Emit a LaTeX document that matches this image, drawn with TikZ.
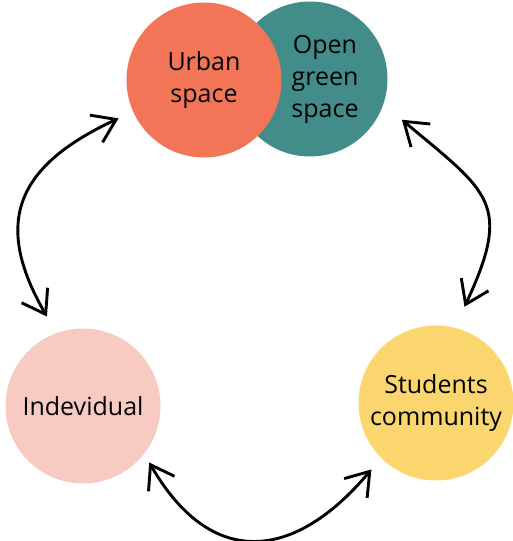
\documentclass[tikz,border=0pt]{standalone}
\usepackage{fontspec}
\setmainfont{Open Sans}
\usetikzlibrary{arrows.meta}

\definecolor{naranjo}{RGB}{242,117,87}
\definecolor{verdeazul}{RGB}{66,141,138}
\definecolor{rosado}{RGB}{247,203,193}
\definecolor{amarillo}{RGB}{251,214,110}

\begin{document}
\begin{tikzpicture}[x=1pt,y=1pt]
\tikzstyle{nodo circulo}=[circle,minimum size=155pt,inner sep=0pt,align=center,font=\fontsize{25}{32}\selectfont]
\tikzstyle{flecha doble}=[line width=2.9pt,{Straight Barb[length=22pt,width=30pt]}-{Straight Barb[length=22pt,width=30pt]}]

\useasboundingbox (0,0) rectangle (512,541);

\node[nodo circulo,fill=verdeazul,label={[font=\fontsize{25}{32}\selectfont,align=center,xshift=15pt]center:{Open\\green\\space}}] (verde) at (310,462) {};
\node[nodo circulo,fill=naranjo] (urbano) at (204,461) {Urban\\space};
\node[nodo circulo,fill=rosado] (indiv) at (83,135) {Indevidual};
\node[nodo circulo,fill=amarillo] (comunidad) at (436,138) {Students\\community};

\draw[flecha doble,shorten <=19pt,shorten >=16pt] (indiv.110) to[out=120,in=205,looseness=1.4] (urbano.204);
\draw[flecha doble,shorten <=24pt,shorten >=23pt] (verde.341) to[out=320,in=65,looseness=1.5] (comunidad.76);
\draw[flecha doble,shorten <=10pt,shorten >=15pt] (indiv.-38) to[out=300,in=230,looseness=1.45] (comunidad.225);
\end{tikzpicture}
\end{document}
